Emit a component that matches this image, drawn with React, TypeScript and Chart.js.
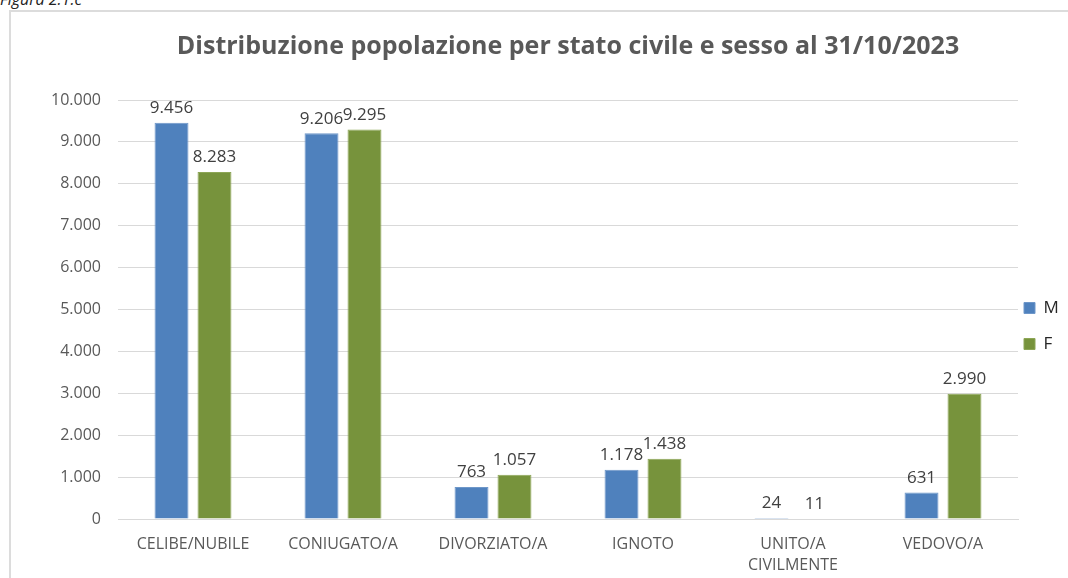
import React, { useEffect, useRef } from "react";
import { Chart, registerables } from "chart.js";

Chart.register(...registerables);

const categories: (string | string[])[] = [
  "CELIBE/NUBILE",
  "CONIUGATO/A",
  "DIVORZIATO/A",
  "IGNOTO",
  ["UNITO/A", "CIVILMENTE"],
  "VEDOVO/A",
];
const maschi = [9456, 9206, 763, 1178, 24, 631];
const femmine = [8283, 9295, 1057, 1438, 11, 2990];
const yTicks = [0, 1000, 2000, 3000, 4000, 5000, 6000, 7000, 8000, 9000, 10000];

const FONT = "'Open Sans', sans-serif";

const fmt = (v: number) => String(Math.round(v)).replace(/\B(?=(\d{3})+(?!\d))/g, ".");

const valueLabels = {
  id: "valueLabels",
  afterDatasetsDraw(chart: any) {
    const ctx = chart.ctx;
    ctx.save();
    ctx.font = `17px ${FONT}`;
    ctx.fillStyle = "#404040";
    ctx.textAlign = "center";
    ctx.textBaseline = "bottom";
    chart.data.datasets.forEach((ds: any, di: number) => {
      const meta = chart.getDatasetMeta(di);
      meta.data.forEach((el: any, i: number) => {
        ctx.fillText(fmt(ds.data[i]), el.x, el.y - 6);
      });
    });
    ctx.restore();
  },
};

const legendShift = {
  id: "legendShift",
  afterLayout(chart: any) {
    const lg = chart.legend;
    if (lg) {
      lg.left -= 13;
      lg.top += 37;
      lg.bottom += 37;
    }
  },
};

export default function App() {
  const ref = useRef<HTMLCanvasElement>(null);
  useEffect(() => {
    if (!ref.current) return;
    const chart = new Chart(ref.current, {
      type: "bar",
      data: {
        labels: categories,
        datasets: [
          {
            label: "M",
            data: maschi,
            backgroundColor: "#4F81BD",
            borderColor: "#6E97C9",
            borderWidth: 1,
            barPercentage: 0.79,
            categoryPercentage: 0.573,
          },
          {
            label: "F",
            data: femmine,
            backgroundColor: "#77933C",
            borderColor: "#8DA656",
            borderWidth: 1,
            barPercentage: 0.79,
            categoryPercentage: 0.573,
          },
        ],
      },
      options: {
        responsive: false,
        animation: false,
        layout: { padding: 0 },
        plugins: {
          title: {
            display: true,
            text: "Distribuzione popolazione per stato civile e sesso al 31/10/2023",
            color: "#595959",
            font: { family: FONT, size: 25, weight: "bold" },
            padding: { top: 32, bottom: 38 },
            fullSize: false,
          },
          legend: {
            position: "right",
            maxWidth: 50,
            labels: {
              boxWidth: 11,
              boxHeight: 11,
              padding: 19,
              color: "#262626",
              font: { family: FONT, size: 17 },
            },
          },
          tooltip: { enabled: false },
        },
        scales: {
          x: {
            grid: { display: false, drawTicks: false },
            border: { display: true, color: "#d9d9d9", width: 1 },
            ticks: {
              color: "#595959",
              font: { family: FONT, size: 16, lineHeight: 1.3 },
              padding: 15,
              maxRotation: 0,
              autoSkip: false,
            },
            afterFit(scale: any) {
              scale.height = 59;
            },
          },
          y: {
            min: 0,
            max: 10000,
            afterBuildTicks(scale: any) {
              scale.ticks = yTicks.map((v) => ({ value: v }));
            },
            grid: { color: "#d9d9d9", lineWidth: 1, drawTicks: false },
            border: { display: false },
            ticks: {
              color: "#595959",
              font: { family: FONT, size: 16 },
              padding: 17,
              callback: (v: any) => fmt(Number(v)),
            },
            afterFit(scale: any) {
              scale.width = 118;
            },
          },
        },
      },
      plugins: [valueLabels, legendShift],
    });
    return () => chart.destroy();
  }, []);

  return (
    <div
      style={{
        position: "fixed",
        left: 0,
        top: 0,
        width: 1068,
        height: 578,
        overflow: "hidden",
        background: "#fff",
      }}
    >
      <div
        style={{
          position: "absolute",
          left: 0,
          top: -12,
          fontFamily: FONT,
          fontStyle: "italic",
          fontSize: 16,
          color: "#222",
          whiteSpace: "nowrap",
        }}
      >
        Figura 2.1.c
      </div>
      <div
        style={{
          position: "absolute",
          left: 9,
          top: 10,
          width: 2000,
          height: 2000,
          borderTop: "2px solid #dcdcdc",
          borderLeft: "2px solid #dcdcdc",
        }}
      />
      <canvas ref={ref} width={1068} height={578} style={{ position: "absolute", left: 0, top: 0 }} />
    </div>
  );
}
